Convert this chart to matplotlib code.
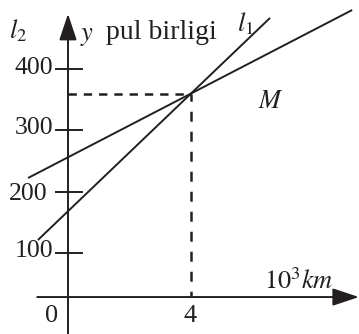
import matplotlib
matplotlib.use("Agg")
import matplotlib.pyplot as plt
import numpy as np

plt.rcParams["font.family"] = "Liberation Serif"
plt.rcParams["mathtext.fontset"] = "stix"
plt.rcParams["lines.scale_dashes"] = False

# data
x_l1 = [-0.98, 6.57]
x_l2 = [-1.30, 9.24]
l1_b, l1_k = 168, 48      # l1: y = 168 + 48x
l2_b, l2_k = 256, 26      # l2: y = 256 + 26x
y_ticks = [100, 200, 300, 400]
x_mark = 4
x_axis_level = 28         # x-axis drawn a bit above y=0 like the sketch

fig = plt.figure(figsize=(3.59, 3.34), dpi=100)
ax = fig.add_axes([0, 0, 1, 1])
ax.set_xlim(-2.211, 9.463)
ax.set_ylim(-32.3, 512.6)
ax.set_facecolor("white")

ink = "#231f20"
lw = 1.4
for xs, b, k in [(x_l1, l1_b, l1_k), (x_l2, l2_b, l2_k)]:
    xs = np.array(xs)
    ax.plot(xs, b + k * xs, color=ink, lw=lw, solid_capstyle="butt")

# intersection point M
ym = l1_b + l1_k * x_mark
ax.plot([0, x_mark], [ym, ym], color=ink, lw=1.8, linestyle=(0, (6, 5)))
ax.plot([x_mark, x_mark], [ym, x_axis_level], color=ink, lw=1.8, linestyle=(2, (7.2, 7.2)))

# axes with arrows
for sp in ax.spines.values():
    sp.set_visible(False)
ax.set_xticks([])
ax.set_yticks([])
arrow = dict(arrowstyle="-|>,head_length=0.9,head_width=0.3", color=ink,
             lw=lw, mutation_scale=18, shrinkA=0, shrinkB=0)
ax.annotate("", xy=(9.46, x_axis_level), xytext=(-1.0, x_axis_level), arrowprops=arrow)
ax.annotate("", xy=(0, 490), xytext=(0, -40), arrowprops=arrow)

# y ticks
for t in y_ticks:
    ax.plot([-0.38, 0.45], [t, t], color=ink, lw=lw)
tick_pos = {400: (-0.47, 402), 300: (-0.47, 303), 200: (-0.68, 196), 100: (-0.47, 103)}
for t in y_ticks:
    xx, yy = tick_pos[t]
    ax.text(xx, yy, str(t), ha="right", va="center", fontsize=18.5, color=ink)

txt = dict(color=ink, fontsize=19, ha="center", va="center")
ax.text(-1.63, 462, r"$l_2$", **txt)
ax.text(0.6, 452, r"$y$", **txt)
ax.text(1.25, 460, "pul birligi", color=ink, fontsize=20, ha="left", va="center")
ax.text(5.78, 474, r"$l_1$", **txt)
ax.text(6.6, 346, r"$M$", **txt)
ax.text(7.51, 54, r"$10^3km$", **txt)
ax.text(-0.55, -3, "0", **txt)
ax.text(3.97, -3, "4", **txt)

fig.savefig("out.png", dpi=100, facecolor="white")
